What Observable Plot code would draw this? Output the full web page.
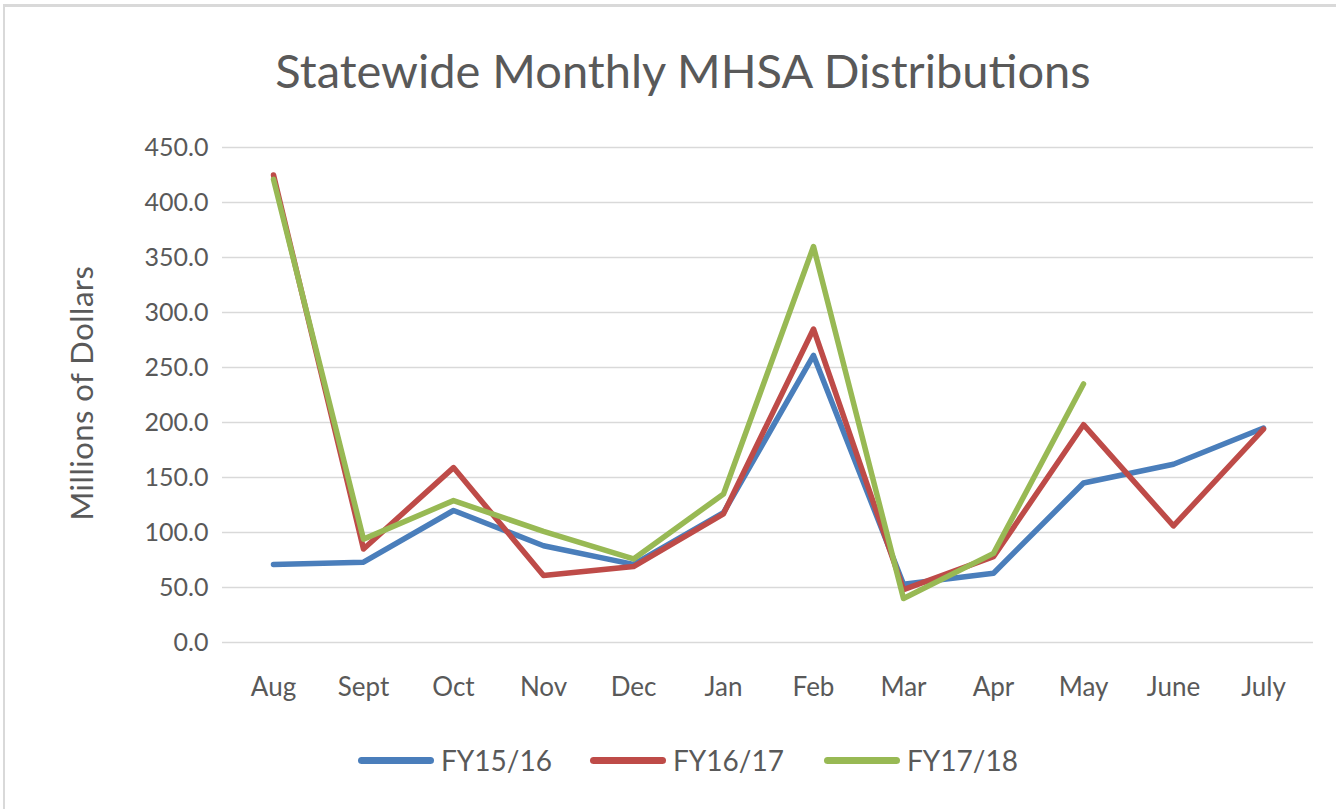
<!DOCTYPE html>
<html>
<head>
<meta charset="utf-8">
<script src="https://cdn.jsdelivr.net/npm/d3@7"></script>
<script src="https://cdn.jsdelivr.net/npm/@observablehq/plot@0.6"></script>
<style>
  html, body { margin: 0; padding: 0; background: #fff; }
  #wrap { position: relative; width: 1336px; height: 809px; overflow: hidden; font-family: Lato, "Open Sans", sans-serif; color: #595959; }
  #frame { position: absolute; left: 3px; top: 4px; width: 1340px; height: 820px; border-top: 3px solid #d9d9d9; border-left: 2px solid #d9d9d9; }
  #title { position: absolute; left: 0; width: 1366px; top: 40px; text-align: center; font-size: 47px; line-height: 60px; }
  #chart { position: absolute; left: 0; top: 120px; }
  #ylabel { position: absolute; left: 81px; top: 393px; transform: translate(-50%, -50%) rotate(-90deg); font-size: 31px; letter-spacing: 0.5px; white-space: nowrap; }
  #legend { position: absolute; top: 742px; left: 0; width: 1336px; height: 36px; }
  .item { position: absolute; top: 0; display: flex; align-items: center; height: 36px; font-size: 28px; }
  .sw { width: 76px; height: 7px; border-radius: 3.5px; margin-right: 7px; }
</style>
</head>
<body>
<div id="wrap">
  <div id="frame"></div>
  <div id="title">Statewide Monthly MHSA Distributions</div>
  <div id="chart"></div>
  <div id="ylabel">Millions of Dollars</div>
  <div id="legend"></div>
</div>
<script>
const months = ["Aug","Sept","Oct","Nov","Dec","Jan","Feb","Mar","Apr","May","June","July"];
const seriesNames = ["FY15/16","FY16/17","FY17/18"];
const seriesColors = ["#4a7ebb","#be4b48","#98b954"];
const fy1516 = [71, 73, 120, 88, 71, 118, 261, 53, 63, 145, 162, 195];
const fy1617 = [425, 85, 159, 61, 69, 117, 285, 48, 78, 198, 106, 194];
const fy1718 = [421, 94, 129, 101, 76, 135, 360, 40, 81, 235];
const yTicks = [0, 50, 100, 150, 200, 250, 300, 350, 400, 450];

const allSeries = [fy1516, fy1617, fy1718];
const data = [];
allSeries.forEach((vals, si) => {
  vals.forEach((v, i) => data.push({series: seriesNames[si], month: months[i], value: v}));
});

const chart = Plot.plot({
  width: 1336,
  height: 600,
  marginLeft: 222,
  marginRight: 23,
  marginTop: 27,
  marginBottom: 78,
  style: {fontFamily: "Lato, 'Open Sans', sans-serif", color: "#595959", fontSize: "25px", background: "transparent"},
  x: {type: "point", domain: months, padding: 0.5, label: null},
  y: {domain: [0, 450], label: null},
  color: {domain: seriesNames, range: seriesColors},
  marks: [
    Plot.gridY(yTicks, {stroke: "#d9d9d9", strokeOpacity: 1, strokeWidth: 1.3}),
    Plot.axisY(yTicks, {tickSize: 0, tickPadding: 14, tickFormat: d3.format(".1f"), fontSize: 25, fill: "#595959", label: null}),
    Plot.axisX({tickSize: 0, tickPadding: 35, fontSize: 26, fill: "#595959", label: null}),
    Plot.line(data, {x: "month", y: "value", z: "series", stroke: "series", strokeWidth: 5.5, strokeLinejoin: "round", strokeLinecap: "round"})
  ]
});
document.getElementById("chart").appendChild(chart);

const legendPos = [358, 590, 824];
const legend = document.getElementById("legend");
seriesNames.forEach((name, i) => {
  const it = document.createElement("div");
  it.className = "item";
  it.style.left = legendPos[i] + "px";
  const sw = document.createElement("div");
  sw.className = "sw";
  sw.style.background = seriesColors[i];
  const tx = document.createElement("span");
  tx.textContent = name;
  it.appendChild(sw);
  it.appendChild(tx);
  legend.appendChild(it);
});
</script>
</body>
</html>
